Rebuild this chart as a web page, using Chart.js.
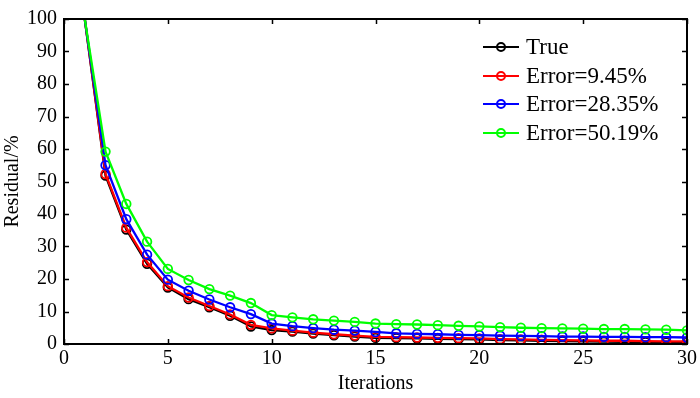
<!DOCTYPE html>
<html>
<head>
<meta charset="utf-8">
<script src="https://cdn.jsdelivr.net/npm/chart.js@4.4.1/dist/chart.umd.min.js"></script>
<style>
    body {margin: 0; background: #fff;}
    #wrap {position: relative; width: 700px; height: 398px;}
    #legend {position: absolute; left: 483px; top: 33px; font: 23px 'Liberation Serif', serif; line-height: 28.5px; color: #000;}
    .row {display: flex; align-items: center; white-space: nowrap;}
    .sym {position: relative; width: 36px; height: 28px; margin-right: 7px;}
    .sym .ln {position: absolute; left: 0; right: 0; top: 13px; height: 2px;}
    .sym .pt {position: absolute; left: 13px; top: 9px; width: 6px; height: 6px; border: 2px solid; border-radius: 50%;}
</style>
</head>
<body>
<div id="wrap">
    <canvas id="myChart" width="700" height="398"></canvas>
    <div id="legend"></div>
</div>
<script>
const iterations = [1, 2, 3, 4, 5, 6, 7, 8, 9, 10, 11, 12, 13, 14, 15, 16, 17, 18, 19, 20, 21, 22, 23, 24, 25, 26, 27, 28, 29, 30];
const seriesNames = ['True', 'Error=9.45%', 'Error=28.35%', 'Error=50.19%'];
const trueVals = [100, 51.8, 35.2, 24.7, 17.4, 13.8, 11.3, 8.7, 5.4, 4.3, 3.8, 3.2, 2.7, 2.3, 1.9, 1.8, 1.7, 1.6, 1.5, 1.4, 1.2, 1.1, 1.0, 0.9, 0.8, 0.7, 0.7, 0.6, 0.5, 0.5];
const err945 = [100, 52.3, 35.8, 25.2, 17.8, 14.3, 11.7, 9.1, 5.9, 4.8, 4.1, 3.5, 3.0, 2.6, 2.2, 2.1, 2.0, 1.9, 1.8, 1.7, 1.5, 1.4, 1.3, 1.2, 1.1, 1.0, 1.0, 0.9, 0.8, 0.8];
const err2835 = [100, 55.0, 38.4, 27.5, 19.8, 16.4, 13.7, 11.3, 9.2, 6.3, 5.5, 4.9, 4.4, 4.1, 3.7, 3.3, 3.1, 3.0, 2.8, 2.7, 2.6, 2.5, 2.4, 2.3, 2.3, 2.2, 2.2, 2.1, 2.1, 2.0];
const err5019 = [100, 59.2, 43.1, 31.5, 23.1, 19.7, 16.9, 14.9, 12.6, 8.9, 8.2, 7.6, 7.2, 6.8, 6.3, 6.1, 6.0, 5.8, 5.6, 5.4, 5.2, 5.0, 4.9, 4.8, 4.7, 4.6, 4.6, 4.5, 4.4, 4.2];
const xTicks = [0, 5, 10, 15, 20, 25, 30];
const yTicks = [0, 10, 20, 30, 40, 50, 60, 70, 80, 90, 100];

const colors = ['#000000', '#ff0000', '#0000ff', '#00ff00'];
const allVals = [trueVals, err945, err2835, err5019];
const font = {family: "'Liberation Serif', serif", size: 20};

// first point has no marker (line enters from the top)
const radii = iterations.map((x, i) => i === 0 ? 0 : 4.3);

const datasets = allVals.map(function (vals, k) {
    return {
        label: seriesNames[k],
        data: iterations.map((x, i) => ({x: x, y: vals[i]})),
        borderColor: colors[k],
        borderWidth: 2.3,
        pointRadius: radii,
        pointBorderWidth: 1.8,
        pointBorderColor: colors[k],
        pointBackgroundColor: 'rgba(0,0,0,0)',
        tension: 0,
        order: 3 - k
    };
});

// box + inward ticks on all four sides
const framePlugin = {
    id: 'frame',
    afterDraw(chart) {
        const c = chart.ctx, a = chart.chartArea, sx = chart.scales.x, sy = chart.scales.y, t = 5;
        c.save();
        c.strokeStyle = '#000';
        c.lineWidth = 2;
        c.strokeRect(a.left, a.top, a.right - a.left, a.bottom - a.top);
        c.lineWidth = 1.5;
        c.beginPath();
        xTicks.forEach(function (v) {
            const px = Math.round(sx.getPixelForValue(v)) + 0.5;
            c.moveTo(px, a.bottom); c.lineTo(px, a.bottom - t);
            c.moveTo(px, a.top); c.lineTo(px, a.top + t);
        });
        yTicks.forEach(function (v) {
            const py = Math.round(sy.getPixelForValue(v)) + 0.5;
            c.moveTo(a.left, py); c.lineTo(a.left + t, py);
            c.moveTo(a.right, py); c.lineTo(a.right - t, py);
        });
        c.stroke();
        c.restore();
    }
};

new Chart(document.getElementById('myChart'), {
    type: 'line',
    data: {datasets: datasets},
    options: {
        responsive: false,
        animation: false,
        layout: {padding: {left: 0, top: 14, right: 10, bottom: 0}},
        plugins: {legend: {display: false}, tooltip: {enabled: false}},
        scales: {
            x: {
                type: 'linear', min: 0, max: 30,
                afterBuildTicks: s => { s.ticks = xTicks.map(v => ({value: v})); },
                afterFit: s => { s.height = 54; },
                grid: {display: false, drawTicks: false},
                border: {display: false},
                ticks: {color: '#000', font: font, padding: 3, maxRotation: 0},
                title: {display: true, text: 'Iterations', color: '#000', font: font, padding: {top: 0, bottom: 2}}
            },
            y: {
                min: 0, max: 100,
                afterBuildTicks: s => { s.ticks = yTicks.map(v => ({value: v})); },
                afterFit: s => { s.width = 64; },
                grid: {display: false, drawTicks: false},
                border: {display: false},
                ticks: {color: '#000', font: font, padding: 7},
                title: {display: true, text: 'Residual/%', color: '#000', font: font, padding: {top: 1, bottom: 0}}
            }
        }
    },
    plugins: [framePlugin]
});

// legend inside the plot, top right
const legend = document.getElementById('legend');
seriesNames.forEach(function (name, k) {
    const row = document.createElement('div');
    row.className = 'row';
    row.innerHTML = '<div class="sym"><div class="ln" style="background:' + colors[k] + '"></div>' +
        '<div class="pt" style="border-color:' + colors[k] + '"></div></div><span></span>';
    row.querySelector('span').textContent = name;
    legend.appendChild(row);
});
</script>
</body>
</html>
